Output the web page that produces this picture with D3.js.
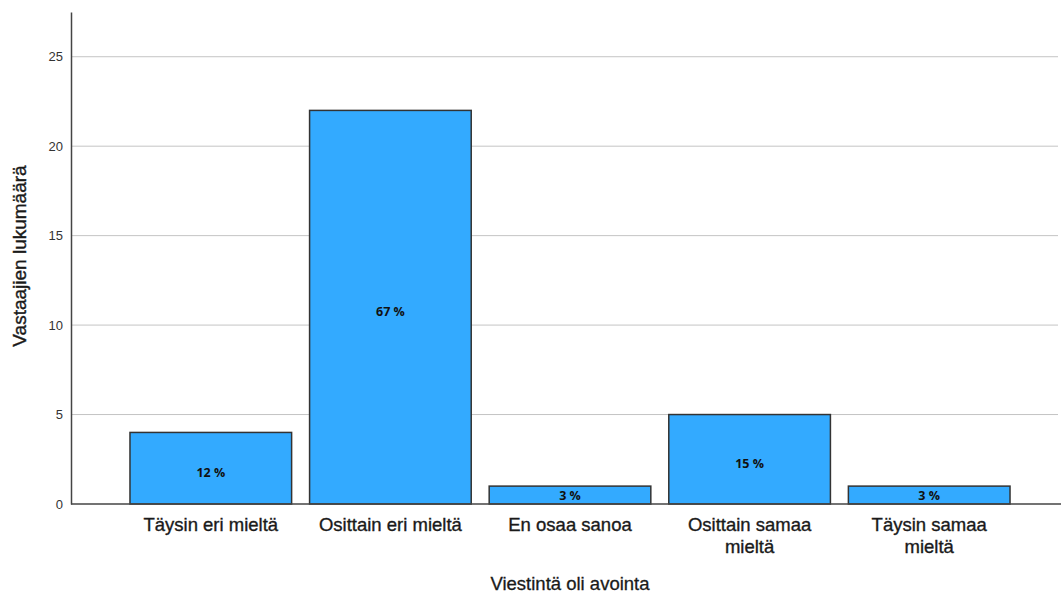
<!DOCTYPE html>
<html>
<head>
<meta charset="utf-8">
<script src="https://cdn.jsdelivr.net/npm/d3@7"></script>
<style>
  body { margin: 0; background: #fff; }
  svg { display: block; }
</style>
</head>
<body>
<div id="chart"></div>
<script>
// data
const categories = ["Täysin eri mieltä", "Osittain eri mieltä", "En osaa sanoa", "Osittain samaa mieltä", "Täysin samaa mieltä"];
const labelLines = [["Täysin eri mieltä"], ["Osittain eri mieltä"], ["En osaa sanoa"], ["Osittain samaa", "mieltä"], ["Täysin samaa", "mieltä"]];
const counts = [4, 22, 1, 5, 1];
const percents = ["12 %", "67 %", "3 %", "15 %", "3 %"];
const yTicks = [0, 5, 10, 15, 20, 25];

const width = 1061;
const height = 597;
const axisX = 71;
const baseY = 504;

const svg = d3
  .select("#chart")
  .append("svg")
  .attr("width", width)
  .attr("height", height);

const x = d3
  .scaleBand()
  .domain(categories)
  .range([121, 1019])
  .paddingInner(0.1)
  .paddingOuter(0.05);

const y = d3.scaleLinear().domain([0, 27.5]).range([baseY, 12]);

// gridlines
svg
  .append("g")
  .selectAll("line")
  .data(yTicks.filter((d) => d > 0))
  .enter()
  .append("line")
  .attr("x1", axisX)
  .attr("x2", width - 3)
  .attr("y1", (d) => y(d))
  .attr("y2", (d) => y(d))
  .attr("stroke", "#c4c4c4")
  .attr("stroke-width", 1);

// y axis
const yAxis = svg
  .append("g")
  .attr("transform", "translate(" + axisX + ",0)")
  .call(d3.axisLeft(y).tickValues(yTicks).tickSize(0).tickPadding(8));
yAxis.select(".domain").attr("stroke", "#444").attr("stroke-width", 1.5);
yAxis
  .selectAll("text")
  .attr("font-family", "Liberation Sans, Arial, sans-serif")
  .attr("font-size", 13)
  .attr("fill", "#333");

// bars
svg
  .append("g")
  .selectAll("rect")
  .data(counts)
  .enter()
  .append("rect")
  .attr("x", (d, i) => x(categories[i]))
  .attr("y", (d) => y(d))
  .attr("width", x.bandwidth())
  .attr("height", (d) => y(0) - y(d))
  .attr("fill", "#33aaff")
  .attr("stroke", "#333")
  .attr("stroke-width", 1.5);

// percent labels inside bars (sit a little below centre when there is room)
svg
  .append("g")
  .selectAll("text")
  .data(counts)
  .enter()
  .append("text")
  .attr("x", (d, i) => x(categories[i]) + x.bandwidth() / 2)
  .attr("y", function (d) {
    var h = y(0) - y(d);
    return (y(d) + y(0)) / 2 + Math.max(0, Math.min(4.5, (h - 18) / 2));
  })
  .attr("dy", "0.36em")
  .attr("text-anchor", "middle")
  .attr("font-family", "Open Sans, sans-serif")
  .attr("font-weight", "bold")
  .attr("font-size", 12.5)
  .attr("fill", "#111")
  .text((d, i) => percents[i]);

// x baseline
svg
  .append("line")
  .attr("x1", axisX)
  .attr("x2", width)
  .attr("y1", baseY)
  .attr("y2", baseY)
  .attr("stroke", "#444")
  .attr("stroke-width", 1.5);

// x category labels
const xl = svg
  .append("g")
  .selectAll("text")
  .data(categories)
  .enter()
  .append("text")
  .attr("x", (d) => x(d) + x.bandwidth() / 2)
  .attr("y", 531)
  .attr("text-anchor", "middle")
  .attr("font-family", "Liberation Sans, Arial, sans-serif")
  .attr("font-size", 18.5)
  .attr("fill", "#1a1a1a")
  .attr("stroke", "#1a1a1a")
  .attr("stroke-width", 0.35);
xl.selectAll("tspan")
  .data((d, i) => labelLines[i])
  .enter()
  .append("tspan")
  .attr("x", function () {
    return this.parentNode.getAttribute("x");
  })
  .attr("dy", (d, i) => (i === 0 ? 0 : 22))
  .text((d) => d);

// axis titles
svg
  .append("text")
  .attr("x", 570)
  .attr("y", 590)
  .attr("text-anchor", "middle")
  .attr("font-family", "Liberation Sans, Arial, sans-serif")
  .attr("font-size", 18.5)
  .attr("fill", "#1a1a1a")
  .attr("stroke", "#1a1a1a")
  .attr("stroke-width", 0.3)
  .text("Viestintä oli avointa");

svg
  .append("text")
  .attr("transform", "translate(26,256) rotate(-90)")
  .attr("text-anchor", "middle")
  .attr("font-family", "Liberation Sans, Arial, sans-serif")
  .attr("font-size", 19)
  .attr("fill", "#1a1a1a")
  .attr("stroke", "#1a1a1a")
  .attr("stroke-width", 0.4)
  .text("Vastaajien lukumäärä");
</script>
</body>
</html>
